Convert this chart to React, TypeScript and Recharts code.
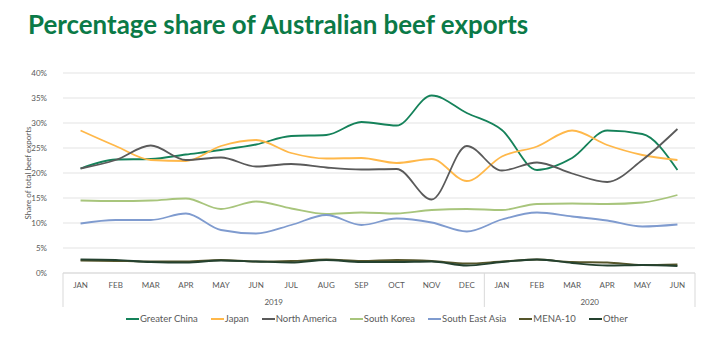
import React from 'react';
import { LineChart, Line, XAxis, YAxis, CartesianGrid, Legend } from 'recharts';

const months = ['JAN', 'FEB', 'MAR', 'APR', 'MAY', 'JUN', 'JUL', 'AUG', 'SEP', 'OCT', 'NOV', 'DEC', 'JAN', 'FEB', 'MAR', 'APR', 'MAY', 'JUN'];
const years = ['2019', '2020'];

const greaterChina = [20.9, 22.7, 22.8, 23.7, 24.6, 25.7, 27.4, 27.6, 30.2, 29.5, 35.5, 32.0, 28.6, 20.6, 23.0, 28.5, 27.8, 20.6];
const japan = [28.5, 25.4, 22.6, 22.4, 25.4, 26.6, 24.0, 22.9, 23.0, 22.0, 22.8, 18.4, 23.3, 25.3, 28.5, 25.6, 23.6, 22.6];
const northAmerica = [20.9, 22.6, 25.5, 22.6, 23.1, 21.3, 21.8, 21.1, 20.7, 20.8, 14.7, 25.4, 20.5, 22.1, 19.9, 18.2, 22.6, 28.8];
const southKorea = [14.5, 14.4, 14.5, 14.9, 12.8, 14.3, 12.9, 11.8, 12.1, 11.9, 12.6, 12.8, 12.6, 13.8, 13.9, 13.8, 14.1, 15.6];
const southEastAsia = [9.9, 10.6, 10.6, 11.9, 8.6, 7.9, 9.6, 11.6, 9.6, 10.9, 10.1, 8.3, 10.7, 12.1, 11.3, 10.5, 9.3, 9.7];
const mena10 = [2.5, 2.4, 2.3, 2.3, 2.6, 2.3, 2.4, 2.7, 2.4, 2.6, 2.4, 1.9, 2.3, 2.7, 2.2, 2.1, 1.6, 1.7];
const other = [2.7, 2.6, 2.2, 2.1, 2.5, 2.3, 2.1, 2.6, 2.2, 2.2, 2.3, 1.5, 2.2, 2.7, 2.0, 1.5, 1.6, 1.4];

const yTicks = [0, 5, 10, 15, 20, 25, 30, 35, 40];

const series = [
  { key: 'Greater China', values: greaterChina, color: '#15825a' },
  { key: 'Japan', values: japan, color: '#ffb84a' },
  { key: 'North America', values: northAmerica, color: '#5a5a5a' },
  { key: 'South Korea', values: southKorea, color: '#a8c57c' },
  { key: 'South East Asia', values: southEastAsia, color: '#7f9bcf' },
  { key: 'MENA-10', values: mena10, color: '#55552a' },
  { key: 'Other', values: other, color: '#24412f' },
];

const data = months.map((m, i) => {
  const row: Record<string, string | number> = { month: m };
  series.forEach((s) => {
    row[s.key] = s.values[i];
  });
  return row;
});

const FONT = 'Lato, sans-serif';
const TEXT = '#595959';
const HALF_BAND = 632 / months.length / 2;

const MonthTick = (props: any) => {
  const { x, y, index, payload } = props;
  return (
    <g>
      <text x={x} y={y + 15} textAnchor="middle" fontSize={8} fill={TEXT} fontFamily={FONT}>
        {payload.value}
      </text>
      {index === 0 && <line x1={x - HALF_BAND} x2={x - HALF_BAND} y1={y} y2={y + 34} stroke="#d9d9d9" />}
      {(index === 11 || index === months.length - 1) && (
        <line x1={x + HALF_BAND} x2={x + HALF_BAND} y1={y} y2={y + 34} stroke="#d9d9d9" />
      )}
      {index === 5 && (
        <text x={x + HALF_BAND} y={y + 32} textAnchor="middle" fontSize={8} fill={TEXT} fontFamily={FONT}>
          {years[0]}
        </text>
      )}
      {index === 14 && (
        <text x={x + HALF_BAND} y={y + 32} textAnchor="middle" fontSize={8} fill={TEXT} fontFamily={FONT}>
          {years[1]}
        </text>
      )}
    </g>
  );
};

const PercentTick = (props: any) => {
  const { x, y, payload } = props;
  return (
    <text x={x - 8} y={y + 3} textAnchor="end" fontSize={8} fill={TEXT} fontFamily={FONT}>
      {`${payload.value}%`}
    </text>
  );
};

const LegendContent = () => (
  <div style={{ display: 'flex', paddingLeft: 93, fontFamily: FONT, fontSize: 9.5, color: TEXT, lineHeight: '20px' }}>
    {series.map((s) => (
      <div key={s.key} style={{ display: 'flex', alignItems: 'center', marginRight: 13 }}>
        <span style={{ display: 'inline-block', width: 13, height: 2, background: s.color, marginRight: 1 }} />
        <span>{s.key}</span>
      </div>
    ))}
  </div>
);

const App: React.FC = () => {
  return (
    <div style={{ position: 'absolute', left: 0, top: 0, width: 702, height: 346, background: '#fff' }}>
      <div
        style={{
          position: 'absolute',
          left: 28,
          top: 8,
          fontFamily: FONT,
          fontWeight: 700,
          fontSize: 25.9,
          color: '#0b7a47',
          whiteSpace: 'nowrap',
        }}
      >
        Percentage share of Australian beef exports
      </div>
      <LineChart width={702} height={346} data={data} margin={{ top: 73, right: 7, bottom: 17, left: 33 }}>
        <CartesianGrid vertical={false} stroke="#e3e3e3" />
        <XAxis
          dataKey="month"
          tickLine={false}
          tickSize={0}
          tickMargin={0}
          height={36}
          interval={0}
          padding={{ left: HALF_BAND, right: HALF_BAND }}
          axisLine={{ stroke: '#d9d9d9' }}
          tick={<MonthTick />}
        />
        <YAxis
          width={30}
          domain={[0, 40]}
          ticks={yTicks}
          axisLine={false}
          tickLine={false}
          tick={<PercentTick />}
          label={{
            value: 'Share of total beef exports',
            angle: -90,
            position: 'insideLeft',
            offset: -5,
            style: { textAnchor: 'middle', fontSize: 8, fill: TEXT, fontFamily: FONT },
          }}
        />
        <Legend verticalAlign="bottom" height={20} content={<LegendContent />} />
        {series.map((s) => (
          <Line
            key={s.key}
            dataKey={s.key}
            type="monotone"
            stroke={s.color}
            strokeWidth={1.8}
            dot={false}
            isAnimationActive={false}
          />
        ))}
      </LineChart>
    </div>
  );
};

export default App;
